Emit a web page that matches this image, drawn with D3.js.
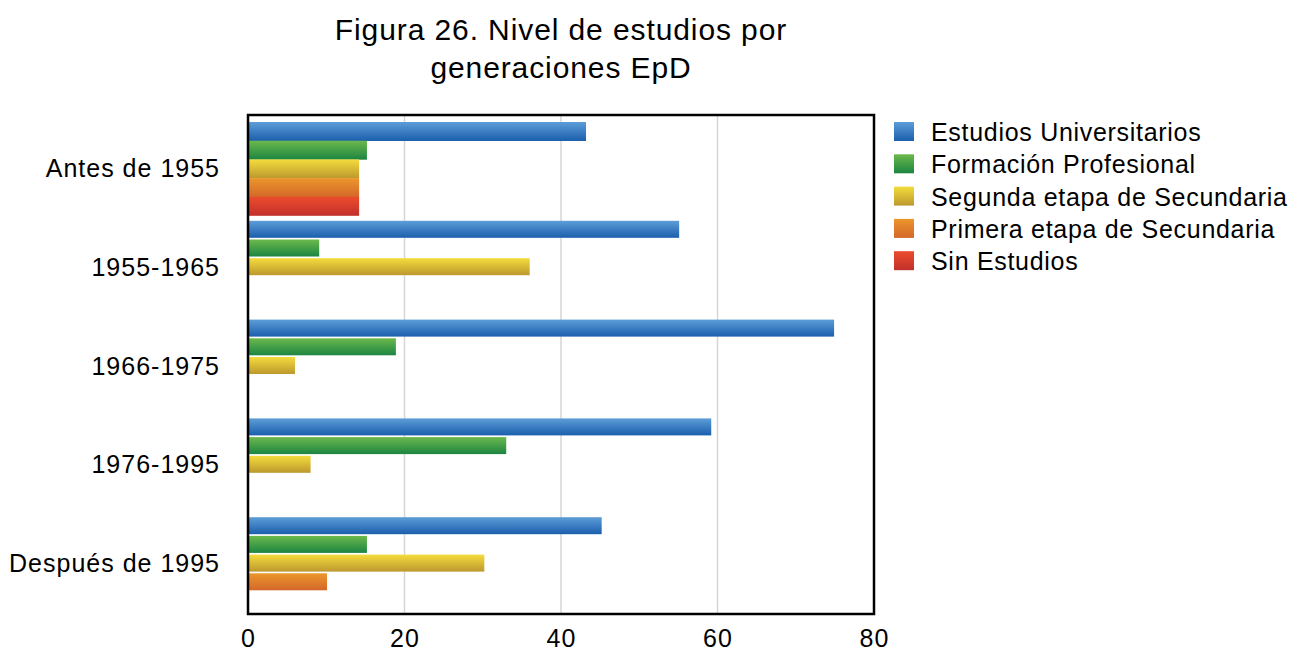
<!DOCTYPE html>
<html><head><meta charset="utf-8">
<script src="https://cdn.jsdelivr.net/npm/d3@7"></script>
<style>body{margin:0;background:#fff}svg{display:block}text{font-family:"Liberation Sans",Arial,sans-serif;fill:#000}</style>
</head><body>
<svg id="chart" width="1294" height="652"></svg>
<script>
const categories = ["Antes de 1955", "1955-1965", "1966-1975", "1976-1995", "Después de 1995"];
const seriesNames = ["Estudios Universitarios", "Formación Profesional", "Segunda etapa de Secundaria", "Primera etapa de Secundaria", "Sin Estudios"];
const universitarios = [43.2, 55.1, 74.9, 59.2, 45.2];
const formacionProfesional = [15.2, 9.1, 18.9, 33.0, 15.2];
const segundaEtapa = [14.2, 36.0, 6.0, 8.0, 30.2];
const primeraEtapa = [14.2, 0, 0, 0, 10.1];
const sinEstudios = [14.2, 0, 0, 0, 0];
const xTicks = [0, 20, 40, 60, 80];
const titleLines = ["Figura 26. Nivel de estudios por", "generaciones EpD"];
const gradTop = ["#5d9dd8", "#6cb94c", "#f4dc3c", "#eb972b", "#ec4c2b"];
const gradBottom = ["#1b5fad", "#1c8542", "#bd982e", "#d4672a", "#c2302b"];

const series = [universitarios, formacionProfesional, segundaEtapa, primeraEtapa, sinEstudios];

const svg = d3.select("#chart");
const L = 248, R = 874, T = 115, B = 614;

const defs = svg.append("defs");
seriesNames.forEach((n, i) => {
  const g = defs.append("linearGradient").attr("id", "g" + i)
    .attr("x1", 0).attr("y1", 0).attr("x2", 0).attr("y2", 1);
  g.append("stop").attr("offset", "0%").attr("stop-color", gradTop[i]);
  g.append("stop").attr("offset", "100%").attr("stop-color", gradBottom[i]);
});

const x = d3.scaleLinear().domain([0, 80]).range([L, R]);
const y = d3.scaleBand().domain(categories).range([117, 611]);
const slot = 18.7;

// title
svg.append("g").selectAll("text").data(titleLines).join("text")
  .attr("x", 561).attr("y", (d, i) => 40 + i * 38)
  .attr("text-anchor", "middle").style("font-size", "30px").style("letter-spacing", "0.9px").text(d => d);

// gridlines
svg.append("g").selectAll("line").data(xTicks.filter(t => t > 0 && t < 80)).join("line")
  .attr("x1", d => x(d)).attr("x2", d => x(d)).attr("y1", T).attr("y2", B)
  .attr("stroke", "#d6d6d6").attr("stroke-width", 1.5);

// bars
const barData = [];
categories.forEach((c, ci) => {
  const full = series.every(s => s[ci] > 0);
  series.forEach((s, si) => {
    if (s[ci] > 0) barData.push({c, si, v: s[ci], full});
  });
});
svg.append("g").selectAll("rect").data(barData).join("rect")
  .attr("x", x(0))
  .attr("y", d => y(d.c) + 5 + d.si * slot)
  .attr("width", d => x(d.v) - x(0))
  .attr("height", d => d.full ? slot + 0.3 : 17)
  .attr("fill", d => `url(#g${d.si})`);

// frame
svg.append("rect").attr("x", L).attr("y", T).attr("width", R - L).attr("height", B - T)
  .attr("fill", "none").attr("stroke", "#000").attr("stroke-width", 2.5);

// x axis labels
const xAxis = d3.axisBottom(x).tickValues(xTicks).tickSize(0).tickPadding(15);
const xg = svg.append("g").attr("transform", `translate(0,${B})`).call(xAxis);
xg.select(".domain").remove();
xg.selectAll("text").style("font-size", "25px").style("letter-spacing", "1px")
  .style("font-family", '"Liberation Sans",Arial,sans-serif').attr("fill", "#000");

// y axis labels
const yAxis = d3.axisLeft(y).tickSize(0).tickPadding(28);
const yg = svg.append("g").attr("transform", `translate(${L},0)`).call(yAxis);
yg.select(".domain").remove();
yg.selectAll("text").style("font-size", "25px").style("letter-spacing", "1px")
  .style("font-family", '"Liberation Sans",Arial,sans-serif').attr("fill", "#000")
  .attr("dy", "0.42em");

// legend
const lg = svg.append("g").selectAll("g").data(seriesNames).join("g")
  .attr("transform", (d, i) => `translate(894,${122 + i * 32.3})`);
lg.append("rect").attr("width", 20).attr("height", 19).attr("fill", (d, i) => `url(#g${i})`);
lg.append("text").attr("x", 37).attr("y", 10).attr("dy", "0.36em")
  .style("font-size", "25px").style("letter-spacing", "0.7px").text(d => d);
</script>
</body></html>
